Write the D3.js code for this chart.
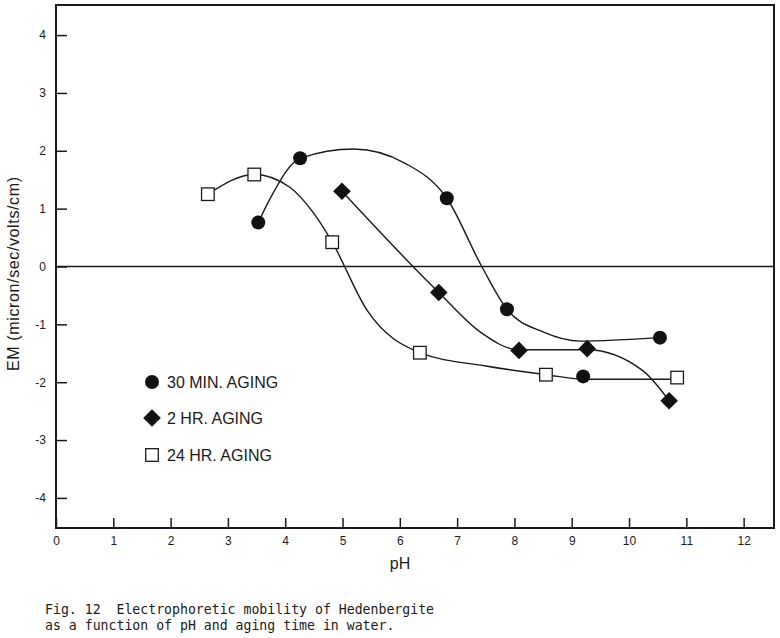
<!DOCTYPE html>
<html>
<head>
<meta charset="utf-8">
<script src="https://cdn.jsdelivr.net/npm/d3@7"></script>
<style>
  html, body { margin: 0; padding: 0; background: #fff; }
  svg { display: block; }
</style>
</head>
<body>
<svg id="chart" width="780" height="638"></svg>
<script>
// ---- data ----
const xTicks = [0,1,2,3,4,5,6,7,8,9,10,11,12];
const yTicks = [-4,-3,-2,-1,0,1,2,3,4];

// measured points
const min30pH = [3.53, 4.26, 6.82, 7.87, 9.2, 10.54];
const min30EM = [0.76, 1.87, 1.18, -0.74, -1.9, -1.23];
const hr2pH   = [4.99, 6.68, 8.08, 9.27, 10.7];
const hr2EM   = [1.30, -0.45, -1.45, -1.42, -2.32];
const hr24pH  = [2.65, 3.46, 4.82, 6.35, 8.55, 10.84];
const hr24EM  = [1.25, 1.59, 0.42, -1.49, -1.87, -1.92];

// hand-drawn smooth curves
const curve30pH = [3.53, 3.75, 4.26, 5.2, 6.1, 6.82, 7.43, 7.87, 8.5, 9.15, 10.54];
const curve30EM = [0.76, 1.2, 1.87, 2.03, 1.78, 1.18, 0.0, -0.74, -1.13, -1.29, -1.23];
const curve2pH  = [4.99, 6.68, 7.4, 8.08, 9.27, 10.24, 10.7];
const curve2EM  = [1.30, -0.45, -1.13, -1.44, -1.44, -1.8, -2.32];
const curve24pH = [2.65, 3.46, 4.08, 4.49, 4.82, 5.43, 6.35, 7.5, 8.55, 9.25, 10.84];
const curve24EM = [1.25, 1.59, 1.37, 0.93, 0.42, -0.76, -1.49, -1.72, -1.87, -1.95, -1.95];

const legendLabels = ["30 MIN. AGING", "2 HR. AGING", "24 HR. AGING"];
const xTitle = "pH";
const yTitle = "EM (micron/sec/volts/cm)";
const caption = ["Fig. 12  Electrophoretic mobility of Hedenbergite",
                 "as a function of pH and aging time in water."];

// ---- drawing ----
const svg = d3.select("#chart");
const L = 56, R = 774, T = 5, B = 528;
const x = d3.scaleLinear().domain([0, 12.53]).range([L, R]);
const y = d3.scaleLinear().domain([-4.52, 4.52]).range([B, T]);
const ink = "#1a1a1a";
const font = "'Liberation Sans', Arial, sans-serif";

const zip = (a, b) => a.map((v, i) => [v, b[i]]);

// axes
const yAxis = d3.axisLeft(y).tickValues(yTicks).tickSize(-11).tickPadding(10)
  .tickFormat(d => d < 0 ? "-" + Math.abs(d) : String(d));
const gy = svg.append("g").attr("transform", `translate(${L},0)`).call(yAxis);
gy.select(".domain").remove();
gy.selectAll("line").attr("stroke", ink).attr("stroke-width", 1.5);
gy.selectAll("text").attr("font-family", font).attr("font-size", 12).attr("fill", ink);

const xAxis = d3.axisBottom(x).tickValues(xTicks).tickSize(-10).tickPadding(8);
const gx = svg.append("g").attr("transform", `translate(0,${B})`).call(xAxis);
gx.select(".domain").remove();
gx.selectAll("line").attr("stroke", ink).attr("stroke-width", 1.5);
gx.selectAll("text").attr("font-family", font).attr("font-size", 12).attr("fill", ink);

// frame
svg.append("rect").attr("x", L).attr("y", T).attr("width", R - L).attr("height", B - T)
  .attr("fill", "none").attr("stroke", ink).attr("stroke-width", 2);

// zero line
svg.append("line").attr("x1", L).attr("x2", R).attr("y1", y(0)).attr("y2", y(0))
  .attr("stroke", ink).attr("stroke-width", 1.6);

// curves
const line = d3.line().x(d => x(d[0])).y(d => y(d[1])).curve(d3.curveMonotoneX);
[[curve30pH, curve30EM], [curve2pH, curve2EM], [curve24pH, curve24EM]].forEach(([a, b]) => {
  svg.append("path").attr("d", line(zip(a, b))).attr("fill", "none")
    .attr("stroke", ink).attr("stroke-width", 1.4);
});

// markers
function circleM(g, cx, cy) {
  g.append("circle").attr("cx", cx).attr("cy", cy).attr("r", 7).attr("fill", "#111");
}
function diamondM(g, cx, cy) {
  const s = 8.8;
  g.append("path").attr("d", `M${cx},${cy - s}L${cx + s},${cy}L${cx},${cy + s}L${cx - s},${cy}Z`)
    .attr("fill", "#111");
}
function squareM(g, cx, cy) {
  const h = 6.3;
  g.append("rect").attr("x", cx - h).attr("y", cy - h).attr("width", 2 * h).attr("height", 2 * h)
    .attr("fill", "#fff").attr("stroke", ink).attr("stroke-width", 1.3);
}
const gm = svg.append("g");
zip(min30pH, min30EM).forEach(d => circleM(gm, x(d[0]), y(d[1])));
zip(hr2pH, hr2EM).forEach(d => diamondM(gm, x(d[0]), y(d[1])));
zip(hr24pH, hr24EM).forEach(d => squareM(gm, x(d[0]), y(d[1])));

// legend
const markers = [circleM, diamondM, squareM];
const legY = [382, 418, 455];
legendLabels.forEach((t, i) => {
  markers[i](svg, 152, legY[i]);
  svg.append("text").attr("x", 167).attr("y", legY[i] + 5.8).text(t)
    .attr("font-family", font).attr("font-size", 16).attr("fill", ink);
});

// axis titles
svg.append("text").attr("x", 400).attr("y", 569).attr("text-anchor", "middle")
  .attr("font-family", font).attr("font-size", 16).attr("fill", ink).text(xTitle);
svg.append("text").attr("transform", "translate(19,274) rotate(-90)").attr("text-anchor", "middle")
  .attr("font-family", font).attr("font-size", 16).attr("textLength", 194)
  .attr("lengthAdjust", "spacing").attr("fill", ink).text(yTitle);

// caption
caption.forEach((t, i) => {
  svg.append("text").attr("x", 45).attr("y", 614 + i * 16).attr("xml:space", "preserve")
    .style("white-space", "pre")
    .attr("font-family", "'DejaVu Sans Mono', 'Liberation Mono', monospace")
    .attr("font-size", 13.2).attr("fill", ink).text(t);
});
</script>
</body>
</html>
